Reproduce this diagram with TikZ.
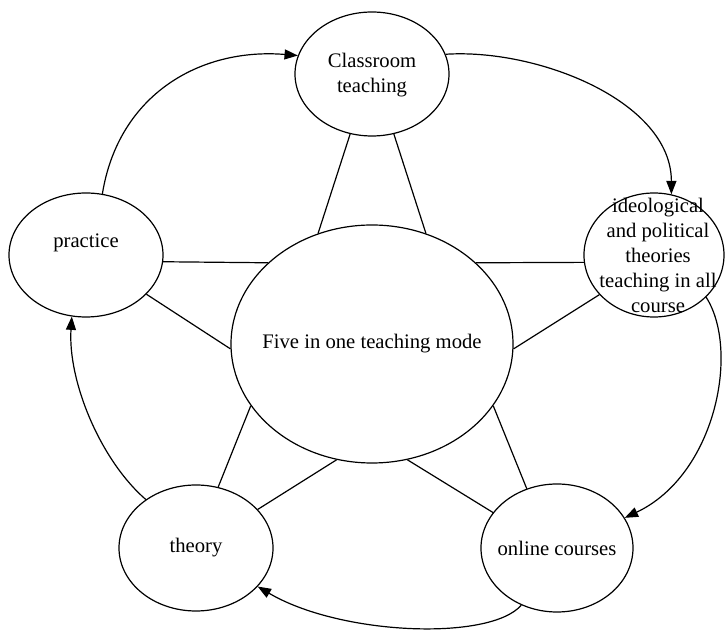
\documentclass[tikz,border=0pt]{standalone}
\usepackage{fontspec}
\setmainfont{Liberation Serif}
\usetikzlibrary{shapes.geometric,arrows.meta}
\begin{document}
\begin{tikzpicture}[x=0.75pt,y=0.75pt,
  blob/.style={ellipse,draw,line width=0.9pt,inner sep=0pt},
  txt/.style={font=\fontsize{15.5}{18.75}\selectfont,align=center,inner sep=0pt},
  link/.style={line width=0.9pt},
  flow/.style={line width=0.9pt,-{Triangle[length=10pt,width=7.5pt]}}]
\useasboundingbox (0,0) rectangle (726,-630);

% the six ellipses
\node[blob,minimum width=115.5pt,minimum height=93pt] (C) at (372,-74) {};
\node[blob,minimum width=211.5pt,minimum height=178.5pt] (M) at (372,-344) {};
\node[blob,minimum width=115.5pt,minimum height=93pt] (P) at (86,-255) {};
\node[blob,minimum width=105pt,minimum height=93pt] (I) at (654,-255) {};
\node[blob,minimum width=115.5pt,minimum height=94.5pt] (T) at (196,-548) {};
\node[blob,minimum width=114pt,minimum height=96pt] (O) at (557,-548) {};

% their texts
\node[txt] (Ct) at (372,-75) {Classroom\\teaching};
\node[txt] (Mt) at (372,-344) {Five in one teaching mode};
\node[txt] (Pt) at (86,-243) {practice};
\node[txt] (It) at (658,-255) {ideological\\and political\\theories\\teaching in all\\course};
\node[txt] (Tt) at (196,-548) {theory};
\node[txt] (Ot) at (557,-548) {online courses};

% spokes to the central mode
\draw[link] (C.250) -- (M.116);
\draw[link] (C.290) -- (M.64);
\draw[link] (P.355) -- (M.142);
\draw[link] (P.327) -- (M.182);
\draw[link] (I.186) -- (M.38);
\draw[link] (I.216) -- (M.358);
\draw[link] (T.70) -- (M.207);
\draw[link] (T.32) -- (M.253);
\draw[link] (O.117) -- (M.333);
\draw[link] (O.151) -- (M.287);

% outer cycle
\draw[flow] (P.75) .. controls +(16,99) and +(-98,8) .. (C.166);
\draw[flow] (C.15) .. controls +(92,6) and +(0,93) .. (I.74);
\draw[flow] (I.321) .. controls +(34,-53) and +(91,43) .. (O.24);
\draw[flow] (O.238) .. controls +(-31,-36) and +(83,-49) .. (T.328);
\draw[flow] (T.136) .. controls +(-46,40) and +(-4,-64) .. (P.257);
\end{tikzpicture}
\end{document}
